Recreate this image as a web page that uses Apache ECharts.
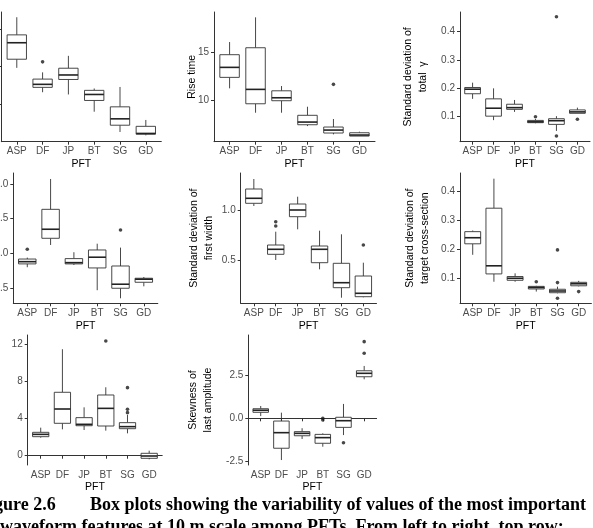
<!DOCTYPE html>
<html>
<head>
<meta charset="utf-8">
<script src="https://cdn.jsdelivr.net/npm/echarts@6.0.0/dist/echarts.min.js"></script>
<style>
  html, body { margin: 0; padding: 0; background: #fff; }
  #main { width: 593px; height: 528px; }
</style>
</head>
<body>
<div id="main"></div>
<script>
// categories
const pft = ['ASP', 'DF', 'JP', 'BT', 'SG', 'GD'];

// boxes: [lower whisker, Q1, median, Q3, upper whisker] per PFT
// outliers: [pft position (1-6), value]
const p1Boxes = [[1.97, 2.20, 2.64, 2.85, 3.32], [1.32, 1.45, 1.53, 1.67, 1.85], [1.26, 1.66, 1.78, 1.96, 2.29],
  [0.80, 1.10, 1.26, 1.37, 1.42], [0.26, 0.44, 0.61, 0.93, 1.46], [0.17, 0.20, 0.22, 0.41, 0.58]];
const p1Outliers = [[2, 2.13]];

// rise time
const p2Boxes = [[11.26, 12.41, 13.46, 14.79, 16.12], [8.70, 9.64, 11.15, 15.52, 18.71], [8.70, 9.96, 10.27, 11.0, 11.5],
  [7.30, 7.44, 7.72, 8.43, 9.33], [6.43, 6.57, 6.88, 7.20, 8.04], [6.25, 6.25, 6.36, 6.60, 6.71]];
const p2Outliers = [[5, 11.68]];

// sd of total gamma
const p3Boxes = [[0.163, 0.181, 0.197, 0.203, 0.22], [0.088, 0.102, 0.13, 0.163, 0.2], [0.117, 0.126, 0.132, 0.144, 0.159],
  [0.077, 0.079, 0.082, 0.087, 0.092], [0.05, 0.073, 0.086, 0.093, 0.102], [0.112, 0.112, 0.117, 0.124, 0.132]];
const p3Outliers = [[4, 0.10], [5, 0.452], [5, 0.032], [6, 0.091]];

const p4Boxes = [[4.01, 4.25, 4.41, 4.60, 4.70], [5.61, 6.09, 6.74, 8.17, 10.35], [4.17, 4.25, 4.34, 4.63, 5.09],
  [2.36, 3.96, 4.73, 5.25, 5.70], [1.78, 2.50, 2.79, 4.10, 5.42], [2.64, 2.93, 3.15, 3.22, 3.31]];
const p4Outliers = [[1, 5.30], [5, 6.69]];

// sd of first width
const p5Boxes = [[1.047, 1.074, 1.124, 1.217, 1.317], [0.507, 0.564, 0.614, 0.657, 0.79], [0.814, 0.94, 1.007, 1.067, 1.14],
  [0.414, 0.48, 0.614, 0.647, 0.80], [0.13, 0.23, 0.28, 0.474, 0.764], [0.134, 0.14, 0.174, 0.347, 0.48]];
const p5Outliers = [[2, 0.89], [2, 0.847], [6, 0.657]];

// sd of target cross-section
const p6Boxes = [[0.181, 0.219, 0.240, 0.261, 0.265], [0.088, 0.115, 0.143, 0.342, 0.444], [0.088, 0.093, 0.10, 0.106, 0.117],
  [0.054, 0.063, 0.068, 0.072, 0.074], [0.048, 0.050, 0.056, 0.062, 0.071], [0.072, 0.074, 0.081, 0.086, 0.091]];
const p6Outliers = [[4, 0.088], [5, 0.198], [5, 0.085], [5, 0.031], [6, 0.054]];

const p7Boxes = [[1.94, 2.05, 2.30, 2.52, 3.02], [2.84, 3.49, 5.03, 6.83, 11.47], [2.77, 3.23, 3.38, 4.10, 5.21],
  [2.70, 3.2, 5.1, 6.54, 7.37], [2.41, 2.91, 3.13, 3.56, 4.39], [-0.39, -0.28, -0.03, 0.26, 0.54]];
const p7Outliers = [[4, 12.36], [5, 7.33], [5, 5.0], [5, 4.64]];

// skewness of last amplitude
const p8Boxes = [[0.13, 0.35, 0.47, 0.56, 0.72], [-2.44, -1.75, -0.84, -0.16, 0.33], [-1.21, -1.02, -0.88, -0.78, -0.58],
  [-1.66, -1.46, -1.13, -0.94, -0.88], [-0.98, -0.53, -0.14, 0.06, 0.84], [2.28, 2.43, 2.63, 2.78, 3.06]];
const p8Outliers = [[4, 0.0], [4, -0.1], [5, -1.43], [6, 4.48], [6, 3.80]];

// tick values per panel
const p1Ticks = [1, 2, 3];
const p2Ticks = [10, 15];
const p3Ticks = [0.1, 0.2, 0.3, 0.4];
const p4Ticks = [2.5, 5.0, 7.5, 10.0];
const p5Ticks = [0.5, 1.0];
const p6Ticks = [0.1, 0.2, 0.3, 0.4];
const p7Ticks = [0, 4, 8, 12];
const p8Ticks = [-2.5, 0.0, 2.5];

// layout of each panel (left, top, width, height, y range, y title)
const panels = [
  { boxes: p1Boxes, outliers: p1Outliers, ticks: p1Ticks, digits: 0, rect: [1.3, 12, 160, 129.7], yMin: 0, yMax: 3.46, name: '', gap: 20 },
  { boxes: p2Boxes, outliers: p2Outliers, ticks: p2Ticks, digits: 0, rect: [214, 12, 161, 129.7], yMin: 5.66, yMax: 19.27, name: 'Rise time', gap: 14.5 },
  { boxes: p3Boxes, outliers: p3Outliers, ticks: p3Ticks, digits: 1, rect: [460, 12, 130, 129.7], yMin: 0.012, yMax: 0.469, name: 'Standard deviation of\ntotal  \u03b3', gap: 29.5 },
  { boxes: p4Boxes, outliers: p4Outliers, ticks: p4Ticks, digits: 1, rect: [13.3, 173, 144.5, 130.3], yMin: 1.42, yMax: 10.78, name: '', gap: 20 },
  { boxes: p5Boxes, outliers: p5Outliers, ticks: p5Ticks, digits: 1, rect: [240.7, 173, 135.8, 130.3], yMin: 0.074, yMax: 1.377, name: 'Standard deviation of\nfirst width', gap: 24.5 },
  { boxes: p6Boxes, outliers: p6Outliers, ticks: p6Ticks, digits: 1, rect: [460, 173, 131.4, 130.3], yMin: 0.0135, yMax: 0.4636, name: 'Standard deviation of\ntarget cross-section', gap: 27.5 },
  { boxes: p7Boxes, outliers: p7Outliers, ticks: p7Ticks, digits: 0, rect: [27.7, 335, 134.5, 130], yMin: -1.0, yMax: 13.0, name: '', gap: 20 },
  { boxes: p8Boxes, outliers: p8Outliers, ticks: p8Ticks, digits: 1, rect: [248.3, 335, 128.3, 130], yMin: -2.73, yMax: 4.87, name: 'Skewness of\nlast amplitude', gap: 32.5 }
];

const lineCol = '#333333';
const labelCol = '#4d4d4d';
const font = 'Liberation Sans, Arial, sans-serif';

// box without whisker caps, ggplot style
function renderBox(params, api) {
  const x = api.value(0);
  const half = api.size([0.75, 0])[0] / 2;
  const lo = api.coord([x, api.value(1)]);
  const q1 = api.coord([x, api.value(2)]);
  const md = api.coord([x, api.value(3)]);
  const q3 = api.coord([x, api.value(4)]);
  const hi = api.coord([x, api.value(5)]);
  const st = { stroke: lineCol, lineWidth: 0.9, fill: null };
  return {
    type: 'group',
    children: [
      { type: 'line', shape: { x1: hi[0], y1: hi[1], x2: q3[0], y2: q3[1] }, style: st },
      { type: 'line', shape: { x1: q1[0], y1: q1[1], x2: lo[0], y2: lo[1] }, style: st },
      { type: 'rect', shape: { x: q3[0] - half, y: q3[1], width: half * 2, height: q1[1] - q3[1] }, style: { stroke: lineCol, lineWidth: 0.9, fill: '#fff' } },
      { type: 'line', shape: { x1: md[0] - half, y1: md[1], x2: md[0] + half, y2: md[1] }, style: { stroke: '#222', lineWidth: 1.6 } }
    ]
  };
}

const grids = [], xAxes = [], yAxes = [], series = [];
panels.forEach((p, i) => {
  grids.push({ left: p.rect[0], top: p.rect[1], width: p.rect[2], height: p.rect[3], containLabel: false, outerBoundsMode: 'none' });
  xAxes.push({
    type: 'value', gridIndex: i, min: 0.4, max: 6.6,
    name: 'PFT', nameLocation: 'middle', nameGap: 17, nameMoveOverlap: false,
    nameTextStyle: { fontFamily: font, fontSize: 10.5, color: '#000' },
    axisLine: { show: true, lineStyle: { color: lineCol, width: 1 } },
    axisTick: { show: true, length: 3, lineStyle: { color: lineCol }, customValues: [1, 2, 3, 4, 5, 6] },
    axisLabel: {
      customValues: [1, 2, 3, 4, 5, 6], margin: 5, fontFamily: font, fontSize: 10, color: labelCol,
      formatter: v => pft[Math.round(v) - 1]
    },
    splitLine: { show: false }
  });
  yAxes.push({
    type: 'value', gridIndex: i, min: p.yMin, max: p.yMax,
    name: p.name, nameLocation: 'middle', nameRotate: 90, nameGap: p.gap, nameMoveOverlap: false,
    nameTextStyle: { fontFamily: font, fontSize: 10.5, color: '#000', lineHeight: 15 },
    axisLine: { show: true, lineStyle: { color: lineCol, width: 1 } },
    axisTick: { show: true, length: 3, lineStyle: { color: lineCol }, customValues: p.ticks },
    axisLabel: {
      customValues: p.ticks, margin: 5, fontFamily: font, fontSize: 10, color: labelCol,
      formatter: v => v.toFixed(p.digits)
    },
    splitLine: { show: false }
  });
  series.push({
    type: 'custom', xAxisIndex: i, yAxisIndex: i,
    renderItem: renderBox,
    encode: { x: 0, y: [1, 2, 3, 4, 5] },
    data: p.boxes.map((b, k) => [k + 1].concat(b)),
    silent: true
  });
  series.push({
    type: 'scatter', xAxisIndex: i, yAxisIndex: i,
    symbolSize: 3.6, itemStyle: { color: '#1a1a1a' },
    data: p.outliers, silent: true
  });
});

const capFont = 'bold 18px "Liberation Serif", "Times New Roman", serif';

const chart = echarts.init(document.getElementById('main'), null, { renderer: 'canvas' });
chart.setOption({
  backgroundColor: '#fff',
  animation: false,
  grid: grids,
  xAxis: xAxes,
  yAxis: yAxes,
  series: series,
  graphic: [
    { type: 'text', x: -22, y: 496.5, style: { text: 'Figure 2.6', font: capFont, fill: '#000' } },
    { type: 'text', x: 90, y: 496.5, style: { text: 'Box plots showing the variability of values of the most important', font: capFont, fill: '#000' } },
    { type: 'text', x: 0, y: 518, style: { text: 'waveform features at 10 m scale among PFTs. From left to right, top row:', font: capFont, fill: '#000' } }
  ]
});
</script>
</body>
</html>
